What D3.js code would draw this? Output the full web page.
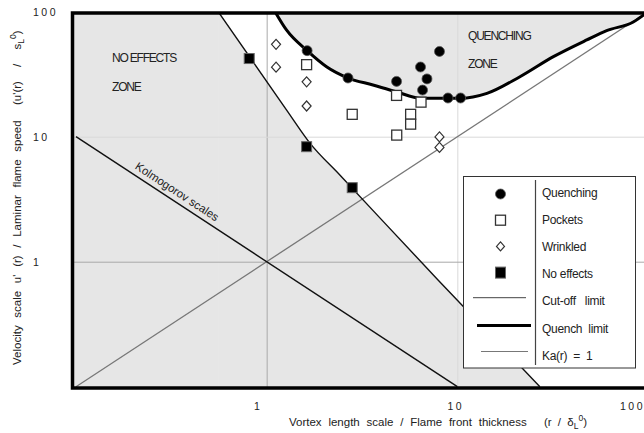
<!DOCTYPE html>
<html>
<head>
<meta charset="utf-8">
<script src="https://cdn.jsdelivr.net/npm/d3@7"></script>
<style>
  html, body { margin: 0; padding: 0; background: #fff; }
  svg { display: block; font-family: "Liberation Sans", Arial, Helvetica, sans-serif; }
</style>
</head>
<body>
<svg id="chart" width="644" height="433"></svg>
<script>
// ---- data (r/δL0 on x, u'(r)/sL0 on y) ----
const xTicks = [1, 10, 100];
const yTicks = [1, 10, 100];
const gridVals = [1, 10];

// measured flame responses
const quenchX = [1.63, 2.67, 4.80, 6.41, 6.93, 6.57, 8.06, 8.93, 10.4];
const quenchY = [48.8, 29.5, 27.7, 36.1, 29.0, 23.6, 48.1, 20.4, 20.4];
const pocketX = [1.62, 2.81, 4.80, 6.45, 5.69, 5.69, 4.81];
const pocketY = [37.7, 15.1, 21.4, 18.9, 15.1, 12.6, 10.3];
const wrinkX  = [1.12, 1.12, 1.62, 1.62, 8.06, 8.06];
const wrinkY  = [54.8, 36.0, 27.5, 17.6, 9.95, 8.2];
const noEffX  = [0.81, 1.62, 2.81];
const noEffY  = [42.2, 8.32, 3.91];

// limit curves
const cutoffX = [0.557, 1.27, 1.69, 2.42, 7.92, 27.1];
const cutoffY = [100, 16.4, 8.85, 4.94, 0.714, 0.1];
const qlimX = [1.106, 1.27, 1.63, 2.06, 2.66, 3.61, 4.77, 6.45, 8.86, 10.4, 14.3, 21.3, 31.9, 47.7, 60.7, 83.7, 100];
const qlimY = [100, 71.4, 48.8, 36.3, 29.6, 25.9, 22.9, 20.3, 20.3, 20.3, 22.2, 30.2, 43.7, 59.4, 70.5, 82.7, 100];
const kaX = [0.1, 100];
const kaY = [0.1, 100];
const kolX = [0.1, 10];
const kolY = [10, 0.1];
const kolLabelX = 0.195;

const legendLabels = ["Quenching", "Pockets", "Wrinkled", "No effects", "Cut-off   limit", "Quench  limit", "Ka(r)  =  1"];

// ---- layout ----
const svg = d3.select("#chart");
const frame = { left: 72.5, top: 13, bottom: 388, right: 650 };
const x = d3.scaleLog().domain([0.1, 100]).range([76, 648]);
const y = d3.scaleLog().domain([0.1, 100]).range([386.7, 11.7]);
const GRAY = "#e6e6e6";

const zip = (a, b) => a.map((v, i) => [v, b[i]]);
const cutoff = zip(cutoffX, cutoffY);
const qlim = zip(qlimX, qlimY);

svg.append("defs").append("clipPath").attr("id", "plotClip")
  .append("rect")
  .attr("x", frame.left).attr("y", frame.top)
  .attr("width", frame.right - frame.left).attr("height", frame.bottom - frame.top);

const plot = svg.append("g").attr("clip-path", "url(#plotClip)");

plot.append("rect")
  .attr("x", frame.left).attr("y", frame.top)
  .attr("width", frame.right - frame.left).attr("height", frame.bottom - frame.top)
  .attr("fill", "#fff");

// no-effects zone: everything left of / below the cut-off limit
plot.append("rect")
  .attr("x", frame.left).attr("y", frame.top)
  .attr("width", x(cutoffX[0]) - frame.left + 0.5)
  .attr("height", frame.bottom - frame.top)
  .attr("fill", GRAY);
plot.append("path")
  .datum(cutoff)
  .attr("fill", GRAY)
  .attr("d", d3.area().x(d => x(d[0])).y0(frame.bottom).y1(d => y(d[1])).curve(d3.curveMonotoneX));

// quenching zone: above the quench limit
plot.append("path")
  .datum(qlim)
  .attr("fill", GRAY)
  .attr("d", d3.area().x(d => x(d[0])).y0(frame.top).y1(d => y(d[1])).curve(d3.curveMonotoneX));

// grid lines
const gx = plot.append("g")
  .attr("transform", `translate(0,${frame.bottom})`)
  .call(d3.axisBottom(x).tickValues(gridVals).tickSize(-(frame.bottom - frame.top)).tickFormat(""));
gx.select(".domain").remove();
gx.selectAll("line").attr("stroke", d => d === 1 ? "#a9a9a9" : "#d9d9d9").attr("stroke-width", 1);

const gy = plot.append("g")
  .attr("transform", `translate(${frame.left},0)`)
  .call(d3.axisLeft(y).tickValues(gridVals).tickSize(-(frame.right - frame.left)).tickFormat(""));
gy.select(".domain").remove();
gy.selectAll("line").attr("stroke", d => d === 1 ? "#a9a9a9" : "#d9d9d9").attr("stroke-width", 1);

// reference lines
const straight = d3.line().x(d => x(d[0])).y(d => y(d[1]));
plot.append("path").datum(zip(kaX, kaY))
  .attr("d", straight).attr("fill", "none").attr("stroke", "#777").attr("stroke-width", 1.3);
plot.append("path").datum(zip(kolX, kolY))
  .attr("d", straight).attr("fill", "none").attr("stroke", "#111").attr("stroke-width", 1.4);

const smooth = d3.line().x(d => x(d[0])).y(d => y(d[1])).curve(d3.curveMonotoneX);
plot.append("path").datum(cutoff)
  .attr("d", smooth).attr("fill", "none").attr("stroke", "#111").attr("stroke-width", 1.4);
plot.append("path").datum(qlim)
  .attr("d", smooth).attr("fill", "none").attr("stroke", "#000").attr("stroke-width", 3);

// markers
const diamond = "M0,-5L4.5,0L0,5L-4.5,0Z";
plot.append("g").selectAll("path").data(zip(wrinkX, wrinkY)).join("path")
  .attr("transform", d => `translate(${x(d[0])},${y(d[1])})`)
  .attr("d", diamond).attr("fill", "#fff").attr("stroke", "#333").attr("stroke-width", 1.2);
plot.append("g").selectAll("rect").data(zip(pocketX, pocketY)).join("rect")
  .attr("x", d => x(d[0]) - 5).attr("y", d => y(d[1]) - 5)
  .attr("width", 10).attr("height", 10)
  .attr("fill", "#fff").attr("stroke", "#333").attr("stroke-width", 1.3);
plot.append("g").selectAll("rect").data(zip(noEffX, noEffY)).join("rect")
  .attr("x", d => x(d[0]) - 5).attr("y", d => y(d[1]) - 5)
  .attr("width", 10).attr("height", 10)
  .attr("fill", "#000").attr("stroke", "#666").attr("stroke-width", 1);
plot.append("g").selectAll("circle").data(zip(quenchX, quenchY)).join("circle")
  .attr("cx", d => x(d[0])).attr("cy", d => y(d[1])).attr("r", 5)
  .attr("fill", "#000").attr("stroke", "#555").attr("stroke-width", 0.8);

// frame
svg.append("rect")
  .attr("x", frame.left).attr("y", frame.top)
  .attr("width", frame.right - frame.left).attr("height", frame.bottom - frame.top)
  .attr("fill", "none").attr("stroke", "#000").attr("stroke-width", 3.5);

// zone labels
const zoneText = (tx, ty, s) => svg.append("text")
  .attr("x", tx).attr("y", ty).text(s)
  .attr("font-size", 12).attr("letter-spacing", "-1.2px").attr("fill", "#222");
zoneText(112, 62, "NO EFFECTS");
zoneText(112, 91, "ZONE");
zoneText(468, 39.5, "QUENCHING");
zoneText(468, 68, "ZONE");

// Kolmogorov label along its line
const kolAngle = Math.atan2(y(kolY[1]) - y(kolY[0]), x(kolX[1]) - x(kolX[0])) * 180 / Math.PI;
svg.append("text")
  .attr("transform", `translate(${x(kolLabelX)},${y(1 / kolLabelX)}) rotate(${kolAngle})`)
  .attr("dy", -5.5)
  .attr("font-size", 11.5).attr("fill", "#222")
  .text("Kolmogorov scales");

// tick labels
const tickNudge = [-9, -2, -16];
const ax = svg.append("g")
  .attr("transform", `translate(0,${frame.bottom})`)
  .call(d3.axisBottom(x).tickValues(xTicks).tickSize(0).tickFormat(d3.format("d")));
ax.select(".domain").remove();
ax.selectAll("text")
  .attr("y", 22).attr("dy", 0)
  .attr("dx", (d, i) => tickNudge[i])
  .attr("font-family", "Liberation Sans, Arial, sans-serif")
  .attr("font-size", 10.5).attr("letter-spacing", "2.5px").attr("fill", "#222");

const ay = svg.append("g")
  .attr("transform", "translate(33,0)")
  .call(d3.axisLeft(y).tickValues(yTicks).tickSize(0).tickFormat(d3.format("d")));
ay.select(".domain").remove();
ay.selectAll("text")
  .attr("x", 0).attr("dy", "0.35em").attr("text-anchor", "start")
  .attr("font-family", "Liberation Sans, Arial, sans-serif")
  .attr("font-size", 10.5).attr("letter-spacing", "2.5px").attr("fill", "#222");

// axis titles
svg.append("text")
  .attr("x", 289).attr("y", 426)
  .attr("font-size", 11.5).attr("fill", "#222").attr("word-spacing", "3.6px")
  .text("Vortex length scale / Flame front thickness");
const xt2 = svg.append("text")
  .attr("x", 544).attr("y", 426)
  .attr("font-size", 11.5).attr("fill", "#222").attr("word-spacing", "3px");
xt2.append("tspan").text("(r / δ");
xt2.append("tspan").attr("font-size", 8.5).attr("dy", 3).text("L");
xt2.append("tspan").attr("font-size", 8.5).attr("dy", -8).text("0");
xt2.append("tspan").attr("dy", 5).text(")");

svg.append("text")
  .attr("transform", "translate(20.5,365) rotate(-90)")
  .attr("font-size", 11.5).attr("fill", "#222").attr("word-spacing", "4.5px")
  .text("Velocity scale u' (r) / Laminar flame speed");
const yt2 = svg.append("text")
  .attr("transform", "translate(20.5,105) rotate(-90)")
  .attr("font-size", 11.5).attr("fill", "#222").attr("word-spacing", "11px");
yt2.append("tspan").text("(u'(r) / s");
yt2.append("tspan").attr("font-size", 8.5).attr("dy", 3).text("L");
yt2.append("tspan").attr("font-size", 8.5).attr("dy", -8).text("0");
yt2.append("tspan").attr("dy", 5).text(")");

// legend
const lg = svg.append("g");
lg.append("rect")
  .attr("x", 463.5).attr("y", 176.5).attr("width", 172).attr("height", 191.5)
  .attr("fill", "#fff").attr("stroke", "#333").attr("stroke-width", 1);
lg.append("line")
  .attr("x1", 535.5).attr("x2", 535.5).attr("y1", 180).attr("y2", 365)
  .attr("stroke", "#444").attr("stroke-width", 1.2);

const symX = 500.5;
const symRowY = i => 194 + i * 26.2;
lg.append("circle").attr("cx", symX).attr("cy", symRowY(0)).attr("r", 5)
  .attr("fill", "#000").attr("stroke", "#555").attr("stroke-width", 0.8);
lg.append("rect").attr("x", symX - 5).attr("y", symRowY(1) - 5).attr("width", 10).attr("height", 10)
  .attr("fill", "#fff").attr("stroke", "#333").attr("stroke-width", 1.3);
lg.append("path").attr("transform", `translate(${symX},${symRowY(2)})`)
  .attr("d", "M0,-4.5L4,0L0,4.5L-4,0Z").attr("fill", "#fff").attr("stroke", "#333").attr("stroke-width", 1.2);
lg.append("rect").attr("x", symX - 5).attr("y", symRowY(3) - 5.5).attr("width", 10).attr("height", 11)
  .attr("fill", "#000").attr("stroke", "#666").attr("stroke-width", 1);
lg.append("line").attr("x1", 473).attr("x2", 526).attr("y1", 297.7).attr("y2", 297.7)
  .attr("stroke", "#444").attr("stroke-width", 1);
lg.append("line").attr("x1", 477).attr("x2", 531).attr("y1", 325.5).attr("y2", 325.5)
  .attr("stroke", "#000").attr("stroke-width", 3);
lg.append("line").attr("x1", 481).attr("x2", 528).attr("y1", 351.5).attr("y2", 351.5)
  .attr("stroke", "#777").attr("stroke-width", 1);

lg.selectAll("text.lbl").data(legendLabels).join("text")
  .attr("class", "lbl")
  .attr("x", 542).attr("y", (d, i) => 197 + i * 27.1)
  .attr("xml:space", "preserve").style("white-space", "pre")
  .attr("font-size", 12).attr("letter-spacing", "-0.3px").attr("fill", "#222")
  .text(d => d);
</script>
</body>
</html>
